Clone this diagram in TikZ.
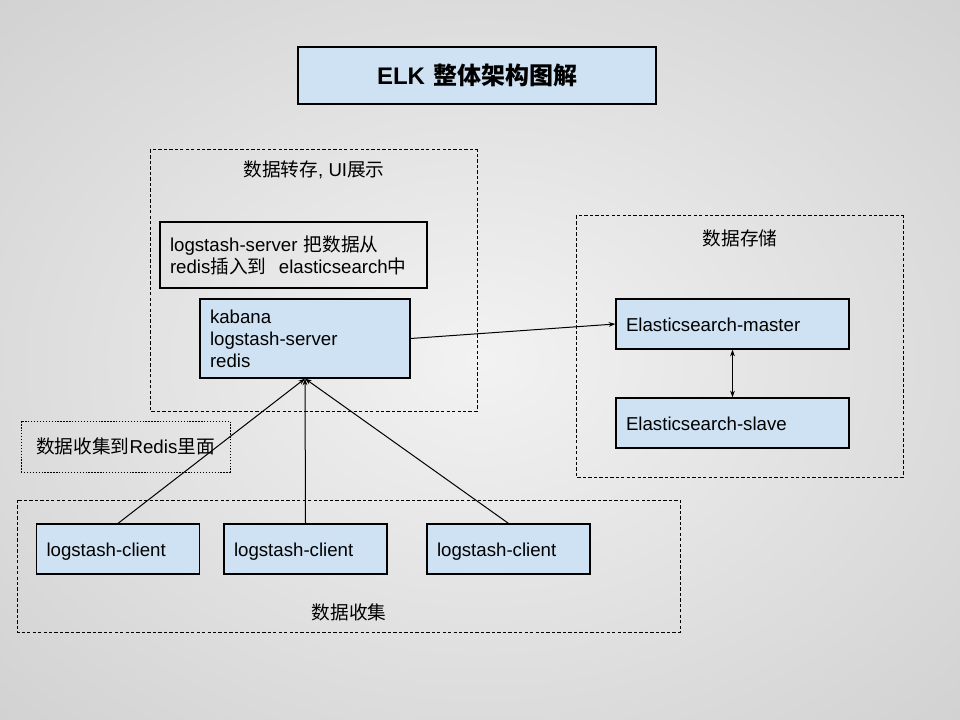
\documentclass[tikz,border=0pt]{standalone}
\usepackage{fontspec}
\setmainfont{Liberation Sans}
\newfontfamily\cjk{Noto Sans CJK SC}
\usetikzlibrary{arrows.meta}

\definecolor{boxblue}{HTML}{CFE2F3}
\pgfdeclareradialshading{backdrop}{\pgfpoint{0bp}{0bp}}{%
	color(0bp)=(white!95!black); color(50bp)=(white!77!black); color(71bp)=(white!63!black)}

\begin{document}
\begin{tikzpicture}[x=0.75pt, y=-0.75pt,
	txt/.style={font=\fontsize{14pt}{16.5pt}\selectfont},
	box/.style={txt, draw, line width=0.9pt, fill=boxblue, inner xsep=7.5pt, align=left},
	oneline/.style={text height=14pt, text depth=3pt},
	group/.style={draw, line width=0.75pt, dash pattern=on 2.5pt off 1.6pt},
	link/.style={line width=0.75pt, -{Stealth[length=5pt, width=3.5pt]}}]

	% ---- background

	\shade[shading=backdrop] (0,0) rectangle (960,720);
	\useasboundingbox (0,0) rectangle (960,720);

	% ---- title

	\node[box, align=center, text width=253.5pt, minimum height=42.75pt,
		font=\fontsize{18pt}{21pt}\selectfont\bfseries] (title) at (477,75.5)
		{ELK {\cjk 整体架构图解}};

	% ---- groups

	\draw[group] (150,150) rectangle (477,411);
	\node[txt] (transfer) at (314,170) {{\cjk 数据转存}, UI{\cjk 展示}};

	\draw[group] (576,216) rectangle (903,477);
	\node[txt] (storage) at (740,238) {\cjk 数据存储};

	\draw[group] (17,500) rectangle (680,632);
	\node[txt] (collect) at (349,612) {\cjk 数据收集};

	% ---- notes

	\node[box, fill=none, text width=185.25pt, minimum height=49.5pt] (note) at (293.5,255)
		{logstash-server {\cjk 把数据从}\\redis{\cjk 插入到}\ \ elasticsearch{\cjk 中}};

	\node[txt, oneline, draw, line width=0.6pt, dash pattern=on 1pt off 1.2pt, align=center,
		inner xsep=7.5pt, text width=141.75pt, minimum height=38.25pt] (rnote) at (125.5,446.5)
		{{\cjk 数据收集到}Redis{\cjk 里面}};

	% ---- servers

	\node[box, text width=142.5pt, minimum height=59.25pt] (server) at (305,338.5)
		{kabana\\logstash-server\\redis};

	\node[box, oneline, text width=159.75pt, minimum height=37.5pt] (master) at (732.5,324) {Elasticsearch-master};
	\node[box, oneline, text width=159.75pt, minimum height=37.5pt] (slave) at (732.5,423) {Elasticsearch-slave};

	% ---- clients

	\foreach \name/\x in {c1/118, c2/305.5, c3/508.5} {
		\node[box, oneline, text width=107.25pt, minimum height=37.5pt] (\name) at (\x,549) {logstash-client};
	}

	% ---- connectors

	\foreach \name in {c1,c2,c3} { \draw[link] (\name.north) -- (server.south); }

	\draw[link] (server.east) -- (master.west);
	\draw[link, {Stealth[length=5pt, width=3.5pt]}-{Stealth[length=5pt, width=3.5pt]}] (master.south) -- (slave.north);

\end{tikzpicture}
\end{document}
